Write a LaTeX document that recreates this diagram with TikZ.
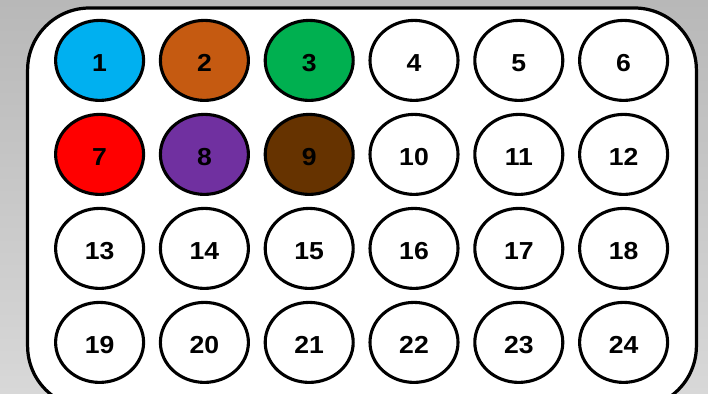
\documentclass[tikz,border=0pt]{standalone}
\usepackage{fontspec}
\usepackage{tikz}
\usetikzlibrary{shapes.geometric}
\newfontfamily\wellfont[FakeStretch=1.08]{Liberation Sans}
\definecolor{bgtop}{RGB}{184,184,184}
\definecolor{bgbot}{RGB}{216,216,216}
\definecolor{wcyan}{RGB}{0,176,240}
\definecolor{wrust}{RGB}{197,90,17}
\definecolor{wgreen}{RGB}{0,176,80}
\definecolor{wred}{RGB}{255,0,0}
\definecolor{wpurple}{RGB}{112,48,160}
\definecolor{wbrown}{RGB}{102,51,0}
\tikzset{
  well/.style={ellipse,draw=black,line width=2.2pt,fill=white,minimum width=2.2cm,minimum height=2.0cm,inner sep=0pt,text height=0.54cm,text depth=0cm,font=\wellfont\bfseries\fontsize{17.5}{17.5}\selectfont},
  tray/.style={draw=black,line width=2.3pt,fill=white,rounded corners=1.55cm},
}

\begin{document}
\begin{tikzpicture}
  \useasboundingbox (0,0) rectangle (17.7,-9.85);
  \clip (0,0) rectangle (17.7,-9.85);
  \fill[top color=bgtop,bottom color=bgbot] (0,0) rectangle (17.7,-9.85);
  \draw[tray] (0.69,-0.2) rectangle (17.41,-10.2);
  % row 1
  \node[well,fill=wcyan] (w1) at (2.49,-1.51) {1};
  \node[well,fill=wrust] (w2) at (5.11,-1.51) {2};
  \node[well,fill=wgreen] (w3) at (7.73,-1.51) {3};
  \node[well] (w4) at (10.35,-1.51) {4};
  \node[well] (w5) at (12.97,-1.51) {5};
  \node[well] (w6) at (15.59,-1.51) {6};
  % row 2
  \node[well,fill=wred] (w7) at (2.49,-3.86) {7};
  \node[well,fill=wpurple] (w8) at (5.11,-3.86) {8};
  \node[well,fill=wbrown] (w9) at (7.73,-3.86) {9};
  \node[well] (w10) at (10.35,-3.86) {10};
  \node[well] (w11) at (12.97,-3.86) {11};
  \node[well] (w12) at (15.59,-3.86) {12};
  % row 3
  \node[well] (w13) at (2.49,-6.21) {13};
  \node[well] (w14) at (5.11,-6.21) {14};
  \node[well] (w15) at (7.73,-6.21) {15};
  \node[well] (w16) at (10.35,-6.21) {16};
  \node[well] (w17) at (12.97,-6.21) {17};
  \node[well] (w18) at (15.59,-6.21) {18};
  % row 4
  \node[well] (w19) at (2.49,-8.56) {19};
  \node[well] (w20) at (5.11,-8.56) {20};
  \node[well] (w21) at (7.73,-8.56) {21};
  \node[well] (w22) at (10.35,-8.56) {22};
  \node[well] (w23) at (12.97,-8.56) {23};
  \node[well] (w24) at (15.59,-8.56) {24};
\end{tikzpicture}
\end{document}
